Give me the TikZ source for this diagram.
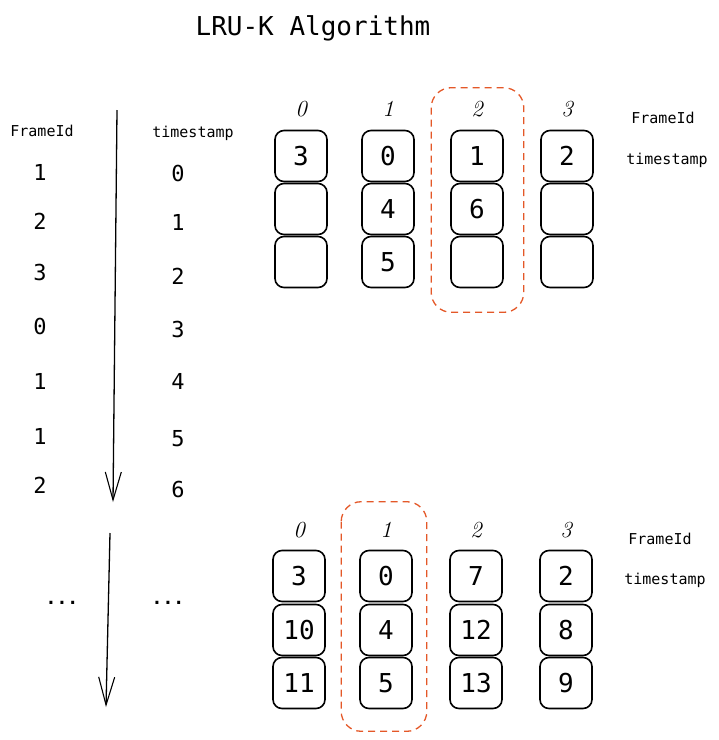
\documentclass[tikz,border=0pt]{standalone}
\usepackage{fontspec}
\setmonofont{DejaVu Sans Mono}
\usepackage{tikz}
\usetikzlibrary{calc}
\usetikzlibrary{positioning}
\usetikzlibrary{arrows.meta}
\definecolor{myorange}{RGB}{228,88,40}
\pgfkeys{tikz/mycell/.style={draw,line width=1.6pt,rounded corners=9pt,minimum width=52pt,minimum height=51pt,inner sep=0pt,font=\ttfamily\fontsize{26}{26}\selectfont}}
\pgfkeys{tikz/myhead/.style={font=\itshape\fontsize{23}{23}\selectfont}}
\pgfkeys{tikz/mylabel/.style={font=\ttfamily\fontsize{15}{15}\selectfont}}
\pgfkeys{tikz/mynum/.style={font=\ttfamily\fontsize{22}{22}\selectfont}}
\pgfkeys{tikz/myframe/.style={draw=myorange,line width=1.3pt,rounded corners=20pt,dash pattern=on 7pt off 5pt}}
\pgfkeys{tikz/mytime/.style={-{Straight Barb[length=28pt,width=16pt,line width=1.1pt]},line width=1.3pt}}

\begin{document}
\begin{tikzpicture}[x=1pt,y=-1pt]
    \useasboundingbox (0,0) rectangle (719,740);
    \node[font=\ttfamily\fontsize{26}{26}\selectfont] (title) at (313,28) {LRU-K Algorithm};

    % left side: accesses in time order
    \node[mylabel] (fid) at (42,131) {FrameId};
    \node[mylabel] (ts) at (193,133) {timestamp};
    \foreach \i/\f/\yf/\yt in {0/1/172/173,1/2/221/222,2/3/272/276,3/0/326/329,4/1/381/381,5/1/436/439,6/2/485/489}{
        \node[mynum] (f\i) at (40,\yf) {\f};
        \node[mynum] (s\i) at (178,\yt) {\i};
    }
    \node[font=\ttfamily\bfseries\fontsize{18}{18}\selectfont] (fdots) at (62,603) {...};
    \node[font=\ttfamily\bfseries\fontsize{18}{18}\selectfont] (sdots) at (168,603) {...};
    \coordinate (a1s) at (117,110);
    \coordinate (a1e) at (113,502);
    \coordinate (a2s) at (110,533);
    \coordinate (a2e) at (106,707);
    \draw[mytime] (a1s) -- (a1e);
    \draw[mytime] (a2s) -- (a2e);

    % top: history after timestamp 6
    \foreach \c/\x/\p/\q/\r in {0/301/3/{}/{},1/388/0/4/5,2/477/1/6/{},3/567/2/{}/{}}{
        \node[myhead] (th\c) at (\x,109) {\c};
        \node[mycell] (t\c-1) at (\x,156) {\p};
        \node[mycell] (t\c-2) at (\x,209) {\q};
        \node[mycell] (t\c-3) at (\x,262) {\r};
    }
    \node[mylabel] (tfid) at (663,118) {FrameId};
    \node[mylabel] (tts) at (667,160) {timestamp};
    \draw[myframe] ($(t2-1.north west)+(-19,-42)$) rectangle ($(t2-3.south east)+(20,24)$);

    % bottom: history later on
    \foreach \c/\x/\p/\q/\r in {0/299/3/10/11,1/386/0/4/5,2/476/7/12/13,3/566/2/8/9}{
        \node[myhead] (bh\c) at (\x,530) {\c};
        \node[mycell] (b\c-1) at (\x,576) {\p};
        \node[mycell] (b\c-2) at (\x,630) {\q};
        \node[mycell] (b\c-3) at (\x,683) {\r};
    }
    \node[mylabel] (bfid) at (660,539) {FrameId};
    \node[mylabel] (bts) at (665,580) {timestamp};
    \draw[myframe] ($(b1-1.north west)+(-18,-48)$) rectangle ($(b1-3.south east)+(14,22)$);
\end{tikzpicture}
\end{document}
